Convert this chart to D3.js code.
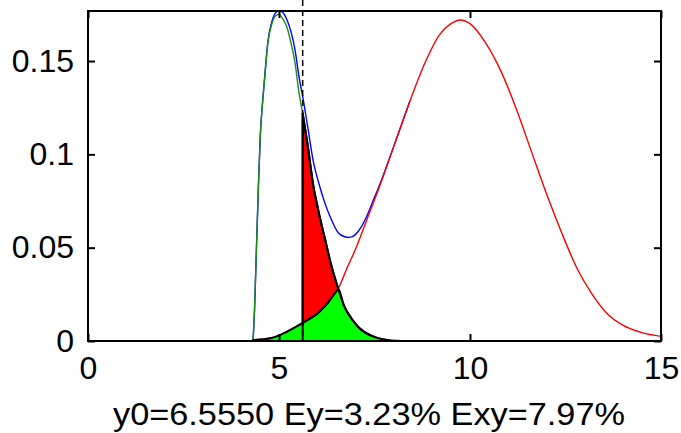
<!DOCTYPE html>
<html>
<head>
<meta charset="utf-8">
<script src="https://cdn.jsdelivr.net/npm/d3@7"></script>
<style>
  html, body { margin: 0; padding: 0; background: #fff; }
  svg { display: block; }
  text { font-family: "Liberation Sans", Arial, Helvetica, sans-serif; fill: #000; }
</style>
</head>
<body>
<svg id="chart" width="681" height="433"></svg>
<script>
// ---- data ----
const xTicks = [0, 5, 10, 15];
const xTickLabels = ["0", "5", "10", "15"];
const yTicks = [0, 0.05, 0.1, 0.15];
const yTickLabels = ["0", "0.05", "0.1", "0.15"];

// first density (green left part / black right part)
const f1X = [4.32, 4.36, 4.41, 4.46, 4.51, 4.58, 4.65, 4.71, 4.80, 4.90, 5.00, 5.10, 5.21, 5.31, 5.42, 5.52, 5.62, 5.75, 5.90, 6.05, 6.20, 6.35, 6.55, 6.70, 6.90, 7.10, 7.40, 7.70, 8.20, 13.0];
const f1Y = [0, 0.017, 0.050, 0.082, 0.110, 0.130, 0.147, 0.160, 0.169, 0.174, 0.175, 0.1725, 0.168, 0.160, 0.149, 0.1335, 0.122, 0.105, 0.083, 0.068, 0.055, 0.042, 0.028, 0.019, 0.012, 0.007, 0.003, 0.001, 0, 0];

// second density (red)
const f2X = [4.32, 4.80, 5.00, 5.30, 5.62, 6.00, 6.26, 6.55, 6.80, 7.00, 7.30, 7.60, 8.00, 8.40, 8.80, 9.20, 9.50, 9.75, 10.00, 10.40, 10.80, 11.20, 11.60, 12.00, 12.40, 12.80, 13.20, 13.60, 14.00, 14.50, 15.00];
const f2Y = [0.0005, 0.0016, 0.0030, 0.0060, 0.0097, 0.0146, 0.0200, 0.0280, 0.0400, 0.0490, 0.0650, 0.0810, 0.1040, 0.1270, 0.1480, 0.1640, 0.1700, 0.1720, 0.1700, 0.1600, 0.1450, 0.1250, 0.1020, 0.0790, 0.0580, 0.0390, 0.0250, 0.0145, 0.0085, 0.0045, 0.0025];

// mixture (blue)
const mixX = [4.32, 4.36, 4.41, 4.46, 4.51, 4.58, 4.65, 4.71, 4.80, 4.90, 5.00, 5.10, 5.21, 5.31, 5.42, 5.52, 5.62, 5.75, 5.90, 6.05, 6.20, 6.35, 6.55, 6.70, 6.85, 7.00, 7.15, 7.30, 7.50, 7.70, 7.85, 8.00, 8.20, 8.43];
const mixY = [0, 0.017, 0.050, 0.082, 0.110, 0.1305, 0.1475, 0.1605, 0.170, 0.1755, 0.177, 0.176, 0.172, 0.166, 0.156, 0.142, 0.131, 0.115, 0.096, 0.084, 0.074, 0.066, 0.058, 0.056, 0.0555, 0.057, 0.061, 0.067, 0.077, 0.087, 0.0955, 0.104, 0.1155, 0.1287];

const threshold = 5.62;   // dashed line
const crossing = 6.55;    // where the two densities meet
const caption = "y0=6.5550 Ey=3.23% Exy=7.97%";

// ---- layout ----
const L = 88, R = 661, T = 11, B = 341;
const svg = d3.select("#chart");
const x = d3.scaleLinear().domain([0, 15]).range([L, R]);
const y = d3.scaleLinear().domain([0, 0.1768]).range([B, T]);

svg.append("defs").append("clipPath").attr("id", "clip")
  .append("rect").attr("x", L).attr("y", T).attr("width", R - L).attr("height", B - T + 2);

const pts = (xs, ys) => xs.map((v, i) => [v, ys[i]]);
const f1 = pts(f1X, f1Y), f2 = pts(f2X, f2Y), mix = pts(mixX, mixY);
const f1i = d3.scaleLinear().domain(f1X).range(f1Y);
const f2i = d3.scaleLinear().domain(f2X).range(f2Y);

const line = d3.line().x(d => x(d[0])).y(d => y(d[1])).curve(d3.curveMonotoneX);

const plot = svg.append("g").attr("clip-path", "url(#clip)");

// blue mixture
plot.append("path")
  .attr("d", line(mix))
  .attr("fill", "none").attr("stroke", "#0000ff").attr("stroke-width", 1.4);

// green line: first density up to the threshold
plot.append("path")
  .attr("d", line(f1.filter(d => d[0] <= threshold)))
  .attr("fill", "none").attr("stroke", "#1a8c1a").attr("stroke-width", 1.4);

// red density
plot.append("path")
  .attr("d", line(f2))
  .attr("fill", "none").attr("stroke", "#ff0000").attr("stroke-width", 1.4);

// green overlap patch: min(f1, f2)
const minPts = f2.filter(d => d[0] <= crossing).concat(f1.filter(d => d[0] > crossing));
const areaMin = d3.area().x(d => x(d[0])).y0(y(0)).y1(d => y(d[1])).curve(d3.curveMonotoneX);
plot.append("path")
  .attr("d", areaMin(minPts))
  .attr("fill", "#00ff00").attr("stroke", "#000").attr("stroke-width", 2)
  .attr("stroke-linejoin", "round");

// red patch between f2 and f1 from threshold to crossing
const redXs = Array.from(new Set(f1X.concat(f2X).filter(v => v >= threshold && v <= crossing))).sort((a, b) => a - b);
const areaRed = d3.area().x(d => x(d)).y0(d => y(f2i(d))).y1(d => y(f1i(d))).curve(d3.curveMonotoneX);
plot.append("path")
  .attr("d", areaRed(redXs))
  .attr("fill", "#ff0000").attr("stroke", "#000").attr("stroke-width", 2)
  .attr("stroke-linejoin", "round");

// black: first density beyond the threshold, with its vertical edge
plot.append("path")
  .attr("d", line(f1.filter(d => d[0] >= threshold)))
  .attr("fill", "none").attr("stroke", "#000").attr("stroke-width", 2);
plot.append("line")
  .attr("x1", x(threshold)).attr("x2", x(threshold))
  .attr("y1", y(0)).attr("y2", y(f1i(threshold)))
  .attr("stroke", "#000").attr("stroke-width", 2);

// dashed threshold line (extends above the axes)
svg.append("line")
  .attr("x1", x(threshold)).attr("x2", x(threshold))
  .attr("y1", 0).attr("y2", B)
  .attr("stroke", "#000").attr("stroke-width", 1.5)
  .attr("stroke-dasharray", "6,4");

// ---- axes box ----
svg.append("rect")
  .attr("x", L).attr("y", T).attr("width", R - L).attr("height", B - T)
  .attr("fill", "none").attr("stroke", "#000").attr("stroke-width", 2);

const fs = "32px";
const xAxis = d3.axisBottom(x).tickValues(xTicks).tickFormat((d, i) => xTickLabels[i])
  .tickSizeInner(-7).tickSizeOuter(0).tickPadding(15);
const gx = svg.append("g").attr("transform", `translate(0,${B})`).call(xAxis);
gx.select(".domain").remove();
gx.selectAll("line").attr("stroke", "#000").attr("stroke-width", 2);
gx.selectAll("text").style("font-size", fs).attr("fill", "#000");

const gxt = svg.append("g").attr("transform", `translate(0,${T})`)
  .call(d3.axisTop(x).tickValues(xTicks).tickFormat("").tickSizeInner(-7).tickSizeOuter(0));
gxt.select(".domain").remove();
gxt.selectAll("line").attr("stroke", "#000").attr("stroke-width", 2);

const yAxis = d3.axisLeft(y).tickValues(yTicks).tickFormat((d, i) => yTickLabels[i])
  .tickSizeInner(-7).tickSizeOuter(0).tickPadding(14);
const gy = svg.append("g").attr("transform", `translate(${L},0)`).call(yAxis);
gy.select(".domain").remove();
gy.selectAll("line").attr("stroke", "#000").attr("stroke-width", 2);
gy.selectAll("text").style("font-size", fs).attr("fill", "#000");

const gyr = svg.append("g").attr("transform", `translate(${R},0)`)
  .call(d3.axisRight(y).tickValues(yTicks).tickFormat("").tickSizeInner(-7).tickSizeOuter(0));
gyr.select(".domain").remove();
gyr.selectAll("line").attr("stroke", "#000").attr("stroke-width", 2);

// caption under the axis
svg.append("text")
  .attr("x", 369).attr("y", 425)
  .attr("text-anchor", "middle")
  .style("font-size", "31px")
  .attr("textLength", 512).attr("lengthAdjust", "spacingAndGlyphs")
  .text(caption);
</script>
</body>
</html>
